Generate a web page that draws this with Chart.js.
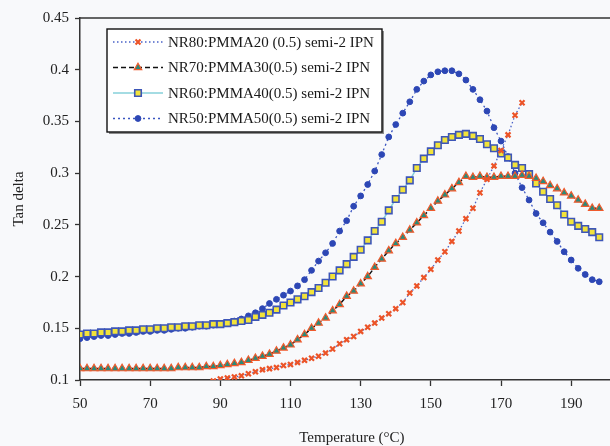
<!DOCTYPE html>
<html>
<head>
<meta charset="utf-8">
<script src="https://cdn.jsdelivr.net/npm/chart.js@4.4.1/dist/chart.umd.min.js"></script>
<style>
  html, body { margin: 0; padding: 0; background: #f8f9fb; overflow: hidden; }
  #wrap { width: 610px; height: 446px; overflow: hidden; }
</style>
</head>
<body>
<div id="wrap"><canvas id="tanDelta" width="630" height="446"></canvas></div>
<script>
// temperature grid (°C), shared by all four blends
const temperature = [
  50, 52, 54, 56, 58, 60, 62, 64, 66, 68,
  70, 72, 74, 76, 78, 80, 82, 84, 86, 88,
  90, 92, 94, 96, 98, 100, 102, 104, 106, 108,
  110, 112, 114, 116, 118, 120, 122, 124, 126, 128,
  130, 132, 134, 136, 138, 140, 142, 144, 146, 148,
  150, 152, 154, 156, 158, 160, 162, 164, 166, 168,
  170, 172, 174, 176, 178, 180, 182, 184, 186, 188,
  190, 192, 194, 196, 198
];

// tan delta per blend, null where no measurement is shown
const nr80 = [
  null, null, null, null, null, null, null, null, null, null,
  null, null, null, null, null, null, null, null, null, 0.099,
  0.101, 0.102, 0.103, 0.104, 0.106, 0.108, 0.110, 0.111, 0.112, 0.114,
  0.115, 0.117, 0.119, 0.121, 0.123, 0.126, 0.130, 0.135, 0.139, 0.142,
  0.147, 0.151, 0.155, 0.160, 0.164, 0.169, 0.175, 0.184, 0.191, 0.199,
  0.207, 0.216, 0.224, 0.234, 0.244, 0.256, 0.266, 0.281, 0.294, 0.307,
  0.322, 0.337, 0.356, 0.368, null, null, null, null, null, null,
  null, null, null, null, null
];
const nr70 = [
  0.111, 0.111, 0.111, 0.111, 0.111, 0.111, 0.111, 0.111, 0.111, 0.111,
  0.111, 0.111, 0.111, 0.111, 0.112, 0.112, 0.112, 0.112, 0.113, 0.113,
  0.114, 0.115, 0.116, 0.117, 0.119, 0.121, 0.123, 0.125, 0.128, 0.131,
  0.134, 0.139, 0.144, 0.150, 0.155, 0.160, 0.167, 0.173, 0.181, 0.186,
  0.193, 0.200, 0.209, 0.217, 0.225, 0.232, 0.238, 0.245, 0.252, 0.259,
  0.266, 0.273, 0.279, 0.285, 0.291, 0.297, 0.296, 0.297, 0.296, 0.296,
  0.297, 0.297, 0.297, 0.298, 0.297, 0.295, 0.292, 0.288, 0.285, 0.281,
  0.278, 0.274, 0.270, 0.266, 0.266
];
const nr60 = [
  0.144, 0.145, 0.145, 0.146, 0.146, 0.147, 0.147, 0.148, 0.148, 0.149,
  0.149, 0.150, 0.150, 0.151, 0.151, 0.152, 0.152, 0.153, 0.153, 0.154,
  0.154, 0.155, 0.156, 0.157, 0.158, 0.161, 0.163, 0.165, 0.168, 0.172,
  0.175, 0.178, 0.181, 0.185, 0.189, 0.194, 0.200, 0.206, 0.212, 0.219,
  0.226, 0.235, 0.244, 0.253, 0.264, 0.275, 0.284, 0.293, 0.305, 0.314,
  0.321, 0.327, 0.332, 0.335, 0.337, 0.338, 0.336, 0.333, 0.328, 0.324,
  0.319, 0.315, 0.308, 0.305, 0.299, 0.290, 0.282, 0.275, 0.269, 0.260,
  0.253, 0.249, 0.246, 0.243, 0.238
];
const nr50 = [
  0.140, 0.141, 0.142, 0.143, 0.143, 0.144, 0.145, 0.145, 0.146, 0.147,
  0.147, 0.148, 0.148, 0.149, 0.150, 0.150, 0.151, 0.152, 0.152, 0.153,
  0.154, 0.155, 0.157, 0.159, 0.162, 0.165, 0.169, 0.174, 0.178, 0.182,
  0.186, 0.191, 0.197, 0.206, 0.215, 0.223, 0.232, 0.244, 0.254, 0.268,
  0.278, 0.289, 0.302, 0.318, 0.335, 0.347, 0.358, 0.369, 0.381, 0.389,
  0.395, 0.398, 0.399, 0.399, 0.396, 0.390, 0.381, 0.371, 0.360, 0.344,
  0.331, 0.316, 0.300, 0.286, 0.274, 0.261, 0.252, 0.243, 0.234, 0.224,
  0.216, 0.208, 0.202, 0.197, 0.195
];

const seriesNames = [
  "NR80:PMMA20 (0.5) semi-2 IPN",
  "NR70:PMMA30(0.5) semi-2 IPN",
  "NR60:PMMA40(0.5) semi-2 IPN",
  "NR50:PMMA50(0.5) semi-2 IPN"
];
const xTicks = [50, 70, 90, 110, 130, 150, 170, 190];
const yTicks = [0.1, 0.15, 0.2, 0.25, 0.3, 0.35, 0.4, 0.45];

const serif = "'Liberation Serif', 'DejaVu Serif', serif";
const axisColor = "#333333";
const textColor = "#222222";

function toPoints(values) {
  return temperature
    .map((t, i) => ({ x: t, y: values[i] }))
    .filter(p => p.y !== null);
}

// paper colour behind everything
const paper = {
  id: "paper",
  beforeDraw(chart) {
    const ctx = chart.ctx;
    ctx.save();
    ctx.fillStyle = "#f8f9fb";
    ctx.fillRect(0, 0, chart.width, chart.height);
    ctx.restore();
  }
};

// top edge of the plot frame
const frameTop = {
  id: "frameTop",
  afterDraw(chart) {
    const { ctx, chartArea } = chart;
    ctx.save();
    ctx.strokeStyle = axisColor;
    ctx.lineWidth = 1.5;
    ctx.beginPath();
    ctx.moveTo(chartArea.left, chartArea.top);
    ctx.lineTo(chartArea.right, chartArea.top);
    ctx.stroke();
    ctx.restore();
  }
};

// boxed legend inside the plot, upper left
const boxLegend = {
  id: "boxLegend",
  afterDraw(chart) {
    const ctx = chart.ctx;
    const left = 107, top = 29, w = 275, h = 103;
    ctx.save();
    ctx.fillStyle = "#8c8c8c";
    ctx.fillRect(left + 2, top + 2, w, h);
    ctx.fillStyle = "#ffffff";
    ctx.fillRect(left, top, w, h);
    ctx.strokeStyle = "#111111";
    ctx.lineWidth = 1.4;
    ctx.strokeRect(left, top, w, h);

    chart.data.datasets.forEach((ds, i) => {
      const y = top + 13 + i * 25.5;
      ctx.setLineDash(ds.borderDash || []);
      ctx.strokeStyle = ds.borderColor;
      ctx.lineWidth = ds.borderWidth;
      ctx.beginPath();
      ctx.moveTo(113, y);
      ctx.lineTo(163, y);
      ctx.stroke();
      ctx.setLineDash([]);

      ctx.fillStyle = ds.pointBackgroundColor;
      ctx.strokeStyle = ds.pointBorderColor;
      ctx.lineWidth = ds.pointBorderWidth;
      Chart.helpers.drawPoint(ctx, {
        pointStyle: ds.pointStyle,
        radius: ds.pointRadius,
        borderWidth: ds.pointBorderWidth,
        rotation: 0
      }, 138, y);

      ctx.fillStyle = "#1a1a1a";
      ctx.font = "15px " + serif;
      ctx.textBaseline = "middle";
      ctx.textAlign = "left";
      ctx.fillText(ds.label, 168, y + 1);
    });
    ctx.restore();
  }
};

new Chart(document.getElementById("tanDelta"), {
  type: "line",
  data: {
    datasets: [
      {
        label: seriesNames[0],
        data: toPoints(nr80),
        borderColor: "#4a63c8",
        borderWidth: 1.3,
        borderDash: [1.5, 2.5],
        pointStyle: "crossRot",
        pointRadius: 3.5,
        pointBorderWidth: 2.2,
        pointBorderColor: "#ec5428",
        pointBackgroundColor: "#ec5428"
      },
      {
        label: seriesNames[1],
        data: toPoints(nr70),
        borderColor: "#111111",
        borderWidth: 1.5,
        borderDash: [5, 3],
        pointStyle: "triangle",
        pointRadius: 4.3,
        pointBorderWidth: 1.2,
        pointBorderColor: "#ef5a2c",
        pointBackgroundColor: "#2a8a7a"
      },
      {
        label: seriesNames[2],
        data: toPoints(nr60),
        borderColor: "#86d0da",
        borderWidth: 1.5,
        pointStyle: "rect",
        pointRadius: 4.6,
        pointBorderWidth: 1.6,
        pointBorderColor: "#3d56b8",
        pointBackgroundColor: "#f2e33a"
      },
      {
        label: seriesNames[3],
        data: toPoints(nr50),
        borderColor: "#3a55c0",
        borderWidth: 1.3,
        borderDash: [2, 3],
        pointStyle: "circle",
        pointRadius: 2.9,
        pointBorderWidth: 1,
        pointBorderColor: "#2d47b5",
        pointBackgroundColor: "#2d47b5"
      }
    ]
  },
  options: {
    responsive: false,
    animation: false,
    events: [],
    layout: { padding: { top: 18, left: 0, right: 0, bottom: 0 } },
    plugins: {
      legend: { display: false },
      tooltip: { enabled: false }
    },
    scales: {
      x: {
        type: "linear",
        min: 50,
        max: 205,
        afterBuildTicks: s => { s.ticks = xTicks.map(v => ({ value: v })); },
        afterFit: s => { s.height = 66; },
        grid: { drawOnChartArea: false, tickLength: 6, color: axisColor, tickWidth: 1.3 },
        border: { color: axisColor, width: 1.5 },
        ticks: {
          padding: 9,
          color: textColor,
          maxRotation: 0,
          font: { family: serif, size: 15 },
          callback: v => String(v)
        },
        title: {
          display: true,
          text: "Temperature (°C)",
          color: textColor,
          font: { family: serif, size: 15, lineHeight: 1 },
          padding: { top: 0, bottom: 0 }
        }
      },
      y: {
        type: "linear",
        min: 0.1,
        max: 0.45,
        afterBuildTicks: s => { s.ticks = yTicks.map(v => ({ value: v })); },
        afterFit: s => { s.width = 80; },
        grid: { drawOnChartArea: false, tickLength: 5, color: axisColor, tickWidth: 1.3 },
        border: { color: axisColor, width: 1.5 },
        ticks: {
          padding: 6,
          color: textColor,
          font: { family: serif, size: 15 },
          callback: v => String(v)
        },
        title: {
          display: true,
          text: "Tan delta",
          color: textColor,
          font: { family: serif, size: 15, lineHeight: 1 },
          padding: { top: 12, bottom: 0 }
        }
      }
    }
  },
  plugins: [paper, frameTop, boxLegend]
});
</script>
</body>
</html>
